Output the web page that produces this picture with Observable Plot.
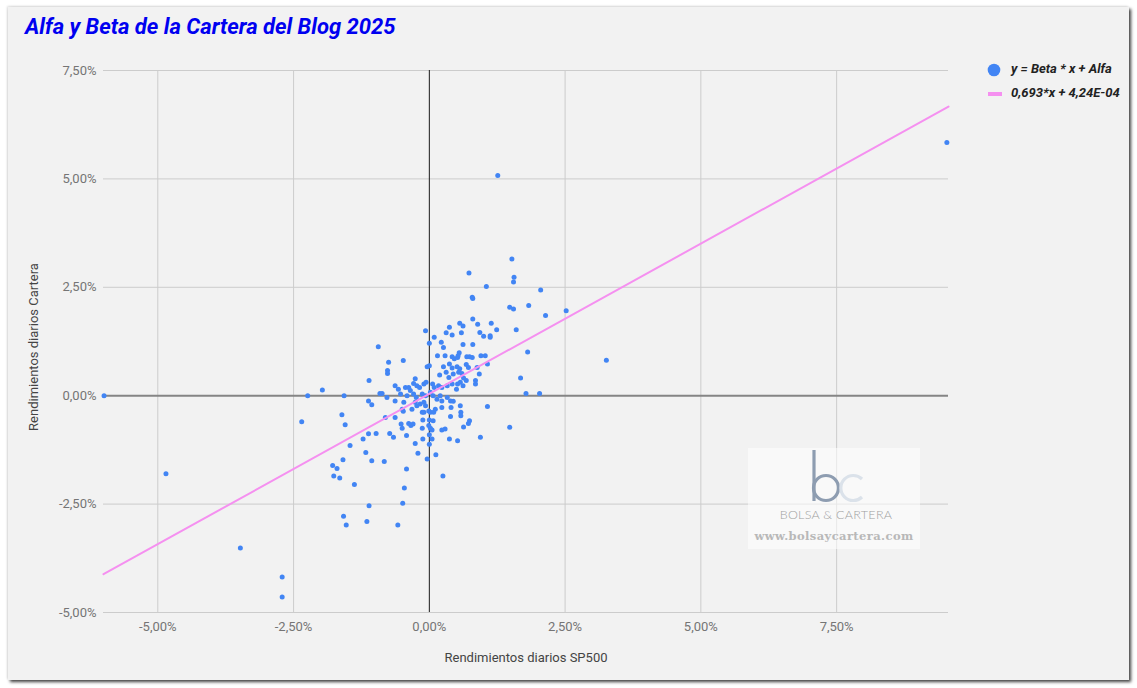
<!DOCTYPE html>
<html>
<head>
<meta charset="utf-8">
<script src="https://cdn.jsdelivr.net/npm/d3@7"></script>
<script src="https://cdn.jsdelivr.net/npm/@observablehq/plot@0.6"></script>
<style>
  html, body { margin: 0; padding: 0; background: #ffffff; }
  #wrap { position: relative; width: 1137px; height: 688px; overflow: hidden; font-family: Roboto, "Noto Sans", sans-serif; }
  #card { position: absolute; left: 8px; top: 7px; width: 1121px; height: 673px; background: #f2f2f2;
          box-shadow: 2px 2px 3px rgba(0,0,0,0.75), -1px -1px 2px rgba(0,0,0,0.12); }
  #chart { position: absolute; left: 0; top: 0; }
  #title { position: absolute; left: 25px; top: 14px; font-size: 22px; font-weight: 700; font-style: italic; color: #0000f0; white-space: nowrap; }
  .axt { position: absolute; font-size: 13px; color: #444444; white-space: nowrap; }
  #legend { position: absolute; left: 986px; top: 60px; font-size: 13px; font-weight: 700; font-style: italic; color: #222222; }
  .lrow { position: relative; height: 24px; }
  .ltxt { position: absolute; left: 25px; top: 1px; white-space: nowrap; }
  #wm { position: absolute; left: 748px; top: 448px; width: 172px; height: 101px; background: rgba(255,255,255,0.55); }
</style>
</head>
<body>
<div id="wrap">
  <div id="card"></div>
  <div id="chart"></div>
  <div id="title">Alfa y Beta de la Cartera del Blog 2025</div>
  <div class="axt" id="xt" style="left:526px; top:650px; transform: translateX(-50%);">Rendimientos diarios SP500</div>
  <div class="axt" id="yt" style="left:33px; top:347px; transform: translate(-50%,-50%) rotate(-90deg);">Rendimientos diarios Cartera</div>
  <div id="legend"></div>
  <div id="wm">
    <svg width="172" height="101" style="position:absolute;left:0;top:0">
      <line x1="66" y1="2" x2="66" y2="53" stroke="#8e9db1" stroke-width="3.2"/>
      <circle cx="78" cy="40" r="12.5" fill="none" stroke="#8e9db1" stroke-width="3.2"/>
      <path d="M 114 31 A 12.5 12.5 0 1 0 114 49" fill="none" stroke="#dbe2ea" stroke-width="3.2"/>
      <text x="88" y="71" text-anchor="middle" font-family="Lato, Roboto, sans-serif" font-weight="300" font-size="12.5" fill="#a0a0a0" letter-spacing="0.3">BOLSA &amp; CARTERA</text>
      <text x="86" y="92" text-anchor="middle" font-family="DejaVu Serif, serif" font-weight="700" font-size="11.5" fill="#b8b8b8" letter-spacing="0.4">www.bolsaycartera.com</text>
    </svg>
  </div>
</div>
<script>
// Daily returns (%)
const sp500 = [
  // upper region
  1.26, 1.52, 0.73, 1.56, 1.55, 1.05, 2.05, 0.79, 0.80, 1.83, 1.48, 1.55, 2.52,
  2.14, 0.80, 0.56, 0.62, 0.89, 1.14, 0.37, 0.31, 0.42, 0.59, 0.93, 1.00, 1.12, 1.12, 1.24, 1.60, -0.07, 0.09,
  // central cluster
  0.00, 0.22, 0.26, 0.62, 0.80, 0.15, 0.29, 0.42, 0.46, 0.52, 0.55, 0.53, 0.69, 0.74, 0.79, 0.95, 1.03,
  -0.75, -0.48, -0.77, -0.77, -0.04, 0.00, 0.26, 0.37, 0.42, 0.51, 0.56, 0.54, 0.68, 0.72, 0.88, 1.07, 0.92,
  0.19, 0.31, 0.36, 0.44, 0.60, 0.63, 0.68, 0.85, 0.85, -0.26, -0.29, -0.63, -0.57, -0.44, -0.38, -0.35,
  -0.23, -0.18, -0.10, -0.06, 0.06, 0.09, 0.17, 0.23, 0.33, 0.42, 0.52, 0.57, 0.62, 0.50,
  -0.87, -0.78, -0.53, -0.41, -0.29, -0.24, -0.13, -0.07, 0.02, 0.07, 0.14, 0.20, 0.23, 0.33, 0.39,
  -0.63, -0.47, -0.26, -0.23, -0.17, -0.10, -0.07, -0.50, -0.48, -0.32, -0.13, -0.10, -0.01, 0.02, 0.08, 0.11,
  0.23, 0.40, 0.44, 0.57, 0.58, 0.58, 0.39, 1.07, -0.81, -0.63, -0.12, 0.00, 0.07, -0.52, -0.38, -0.34, -0.30,
  -0.50, -0.01, 0.02, 0.05, -0.13, 0.23, 0.29, 0.74, 0.72, 0.63, -0.73, -0.66, -0.42, -0.12, 0.00, 0.05,
  0.37, 0.52, 0.94, -0.26, 0.00, 1.48,
  // left of cluster
  -0.94, -1.11, -1.97, -2.24, -1.57, -0.91, -2.35, -1.61, -1.55, -1.12, -1.06, -1.22, -1.12, -0.98, -1.46,
  // right of cluster
  1.81, 3.26, 1.68, 1.78, 2.03,
  // lower region
  -1.17, -1.59, -1.06, -0.83, -1.78, -1.70, -1.76, -1.65, -1.38, -0.42, -0.46, -0.49, -1.11, -1.58, -1.53,
  -1.15, -0.58, -0.21, -0.04, 0.12, 0.25,
  // outliers
  -5.99, -4.85, -3.48, -2.71, -2.71, 9.53
];
const cartera = [
  5.08, 3.15, 2.83, 2.73, 2.62, 2.52, 2.44, 2.27, 2.24, 2.08, 2.04, 2.00, 1.96,
  1.85, 1.77, 1.67, 1.61, 1.65, 1.67, 1.58, 1.45, 1.40, 1.45, 1.46, 1.37, 1.38, 1.35, 1.52, 1.52, 1.50, 1.35,
  1.21, 1.23, 1.11, 1.18, 1.18, 0.92, 0.92, 0.90, 0.85, 0.88, 0.99, 0.92, 0.90, 0.90, 0.88, 0.92, 0.92,
  0.77, 0.81, 0.58, 0.51, 0.67, 0.69, 0.67, 0.73, 0.64, 0.67, 0.62, 0.54, 0.72, 0.65, 0.65, 0.73, 0.50,
  0.48, 0.54, 0.42, 0.50, 0.51, 0.41, 0.35, 0.35, 0.27, 0.39, 0.28, 0.23, 0.15, 0.19, 0.19, 0.12,
  0.23, 0.19, 0.27, 0.31, 0.27, 0.19, 0.23, 0.19, 0.23, 0.27, 0.27, 0.31, 0.23, 0.15,
  0.05, -0.04, 0.04, 0.00, 0.04, -0.04, 0.04, 0.00, 0.08, 0.00, -0.08, 0.00, -0.12, -0.04, -0.12,
  -0.12, -0.15, -0.15, -0.23, -0.19, -0.15, -0.23, -0.31, -0.36, -0.31, -0.38, -0.38, -0.35, -0.38, -0.38, -0.31,
  -0.27, -0.27, -0.13, -0.23, -0.38, -0.46, -0.48, -0.25, -0.50, -0.50, -0.56, -0.56, -0.58, -0.65, -0.64, -0.69, -0.65,
  -0.75, -0.69, -0.75, -0.79, -0.75, -0.79, -0.77, -0.58, -0.64, -0.72, -0.87, -0.96, -0.92, -1.00, -0.90, -1.00,
  -1.00, -1.04, -0.96, -1.10, -1.12, -0.73,
  1.13, 0.35, 0.13, 0.00, 0.00, 0.05, -0.60, -0.44, -0.67, -0.12, -0.21, -1.00, -0.88, -0.87, -1.15,
  1.01, 0.82, 0.41, 0.05, 0.05,
  -1.31, -1.48, -1.50, -1.52, -1.61, -1.68, -1.85, -1.90, -2.05, -1.69, -2.13, -2.48, -2.54, -2.78, -2.98,
  -2.90, -2.98, -1.33, -1.46, -1.36, -1.85,
  0.00, -1.80, -3.51, -4.18, -4.64, 5.84
];
const xTicks = [-5, -2.5, 0, 2.5, 5, 7.5];
const yTicks = [-5, -2.5, 0, 2.5, 5, 7.5];
const xDomain = [-6.0, 9.56];
const yDomain = [-5, 7.5];
const beta = 0.693;          // slope
const alfa = 0.0424;         // intercept in % (4,24E-04)
const legendLabels = ["y = Beta * x + Alfa", "0,693*x + 4,24E-04"];

const dotColor = "#4285f4";
const trendColor = "#f590f0";

const points = sp500.map((x, i) => ({x, y: cartera[i]}));
const trend = xDomain.map(x => ({x, y: beta * x + alfa}));
const fmt = d => d.toFixed(2).replace(".", ",") + "%";

const chart = Plot.plot({
  width: 1137,
  height: 688,
  marginLeft: 103,
  marginRight: 189,
  marginTop: 70,
  marginBottom: 76,
  style: {background: "transparent", fontFamily: "Roboto, sans-serif", fontSize: "13px", overflow: "visible"},
  x: {domain: xDomain},
  y: {domain: yDomain},
  marks: [
    Plot.gridX(xTicks.filter(d => d !== 0), {stroke: "#cccccc", strokeOpacity: 1, strokeWidth: 1}),
    Plot.gridY(yTicks.filter(d => d !== 0), {stroke: "#cccccc", strokeOpacity: 1, strokeWidth: 1}),
    Plot.ruleY([0], {stroke: "#858585", strokeWidth: 2}),
    Plot.ruleX([0], {stroke: "#1a1a1a", strokeWidth: 1}),
    Plot.dot(points, {x: "x", y: "y", r: 2.5, fill: dotColor, stroke: "none"}),
    Plot.line(trend, {x: "x", y: "y", stroke: trendColor, strokeWidth: 2}),
    Plot.axisX(xTicks, {tickSize: 0, tickPadding: 9, tickFormat: fmt, fill: "#757575", label: null}),
    Plot.axisY(yTicks, {tickSize: 0, tickPadding: 7, tickFormat: fmt, fill: "#757575", label: null})
  ]
});
document.getElementById("chart").appendChild(chart);

// legend
const lg = document.getElementById("legend");
lg.innerHTML = `
  <div class="lrow"><svg width="20" height="20" style="position:absolute;left:0;top:0"><circle cx="8" cy="10" r="6.3" fill="${dotColor}"/></svg><span class="ltxt">${legendLabels[0]}</span></div>
  <div class="lrow"><svg width="20" height="20" style="position:absolute;left:0;top:0"><rect x="2" y="8" width="14" height="4" fill="${trendColor}"/></svg><span class="ltxt">${legendLabels[1]}</span></div>
`;
</script>
</body>
</html>
